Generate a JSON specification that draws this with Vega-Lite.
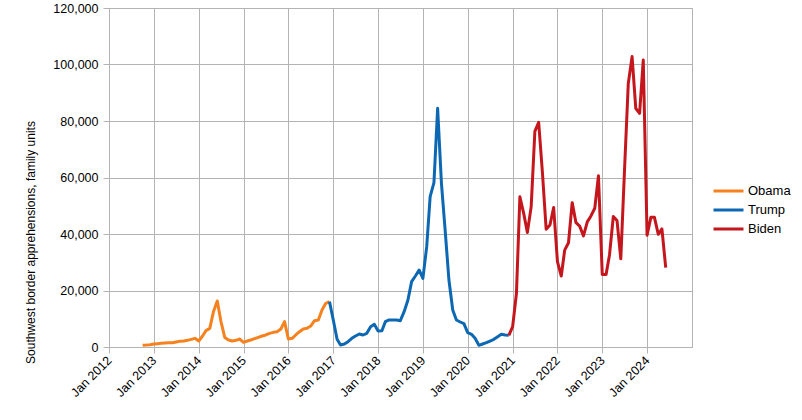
{
  "$schema": "https://vega.github.io/schema/vega-lite/v6.json",
  "width": 583,
  "height": 339,
  "autosize": "none",
  "padding": {"left": 109, "top": 8, "right": 110, "bottom": 73},
  "background": "white",
  "data": {
    "values": [
      {"month": "2012-10-01T00:00", "president": "Obama", "families": 600},
      {"month": "2012-11-01T00:00", "president": "Obama", "families": 700},
      {"month": "2012-12-01T00:00", "president": "Obama", "families": 830},
      {"month": "2013-01-01T00:00", "president": "Obama", "families": 1060},
      {"month": "2013-02-01T00:00", "president": "Obama", "families": 1180},
      {"month": "2013-03-01T00:00", "president": "Obama", "families": 1300},
      {"month": "2013-04-01T00:00", "president": "Obama", "families": 1420},
      {"month": "2013-05-01T00:00", "president": "Obama", "families": 1530},
      {"month": "2013-06-01T00:00", "president": "Obama", "families": 1530},
      {"month": "2013-07-01T00:00", "president": "Obama", "families": 1770},
      {"month": "2013-08-01T00:00", "president": "Obama", "families": 2000},
      {"month": "2013-09-01T00:00", "president": "Obama", "families": 2120},
      {"month": "2013-10-01T00:00", "president": "Obama", "families": 2360},
      {"month": "2013-11-01T00:00", "president": "Obama", "families": 2710},
      {"month": "2013-12-01T00:00", "president": "Obama", "families": 3070},
      {"month": "2014-01-01T00:00", "president": "Obama", "families": 2120},
      {"month": "2014-02-01T00:00", "president": "Obama", "families": 3900},
      {"month": "2014-03-01T00:00", "president": "Obama", "families": 5800},
      {"month": "2014-04-01T00:00", "president": "Obama", "families": 6600},
      {"month": "2014-05-01T00:00", "president": "Obama", "families": 12500},
      {"month": "2014-06-01T00:00", "president": "Obama", "families": 16300},
      {"month": "2014-07-01T00:00", "president": "Obama", "families": 9000},
      {"month": "2014-08-01T00:00", "president": "Obama", "families": 3400},
      {"month": "2014-09-01T00:00", "president": "Obama", "families": 2480},
      {"month": "2014-10-01T00:00", "president": "Obama", "families": 2120},
      {"month": "2014-11-01T00:00", "president": "Obama", "families": 2360},
      {"month": "2014-12-01T00:00", "president": "Obama", "families": 2830},
      {"month": "2015-01-01T00:00", "president": "Obama", "families": 1650},
      {"month": "2015-02-01T00:00", "president": "Obama", "families": 2120},
      {"month": "2015-03-01T00:00", "president": "Obama", "families": 2480},
      {"month": "2015-04-01T00:00", "president": "Obama", "families": 2950},
      {"month": "2015-05-01T00:00", "president": "Obama", "families": 3420},
      {"month": "2015-06-01T00:00", "president": "Obama", "families": 3890},
      {"month": "2015-07-01T00:00", "president": "Obama", "families": 4250},
      {"month": "2015-08-01T00:00", "president": "Obama", "families": 4840},
      {"month": "2015-09-01T00:00", "president": "Obama", "families": 5190},
      {"month": "2015-10-01T00:00", "president": "Obama", "families": 5430},
      {"month": "2015-11-01T00:00", "president": "Obama", "families": 6370},
      {"month": "2015-12-01T00:00", "president": "Obama", "families": 8970},
      {"month": "2016-01-01T00:00", "president": "Obama", "families": 2830},
      {"month": "2016-02-01T00:00", "president": "Obama", "families": 3070},
      {"month": "2016-03-01T00:00", "president": "Obama", "families": 4250},
      {"month": "2016-04-01T00:00", "president": "Obama", "families": 5430},
      {"month": "2016-05-01T00:00", "president": "Obama", "families": 6370},
      {"month": "2016-06-01T00:00", "president": "Obama", "families": 6610},
      {"month": "2016-07-01T00:00", "president": "Obama", "families": 7430},
      {"month": "2016-08-01T00:00", "president": "Obama", "families": 9320},
      {"month": "2016-09-01T00:00", "president": "Obama", "families": 9560},
      {"month": "2016-10-01T00:00", "president": "Obama", "families": 13100},
      {"month": "2016-11-01T00:00", "president": "Obama", "families": 15460},
      {"month": "2016-12-01T00:00", "president": "Obama", "families": 16050},
      {"month": "2016-12-01T00:00", "president": "Trump", "families": 16050},
      {"month": "2017-01-01T00:00", "president": "Trump", "families": 9560},
      {"month": "2017-02-01T00:00", "president": "Trump", "families": 2720},
      {"month": "2017-03-01T00:00", "president": "Trump", "families": 710},
      {"month": "2017-04-01T00:00", "president": "Trump", "families": 1060},
      {"month": "2017-05-01T00:00", "president": "Trump", "families": 1890},
      {"month": "2017-06-01T00:00", "president": "Trump", "families": 3070},
      {"month": "2017-07-01T00:00", "president": "Trump", "families": 3890},
      {"month": "2017-08-01T00:00", "president": "Trump", "families": 4600},
      {"month": "2017-09-01T00:00", "president": "Trump", "families": 4250},
      {"month": "2017-10-01T00:00", "president": "Trump", "families": 4840},
      {"month": "2017-11-01T00:00", "president": "Trump", "families": 7200},
      {"month": "2017-12-01T00:00", "president": "Trump", "families": 8020},
      {"month": "2018-01-01T00:00", "president": "Trump", "families": 5660},
      {"month": "2018-02-01T00:00", "president": "Trump", "families": 5780},
      {"month": "2018-03-01T00:00", "president": "Trump", "families": 8970},
      {"month": "2018-04-01T00:00", "president": "Trump", "families": 9560},
      {"month": "2018-05-01T00:00", "president": "Trump", "families": 9560},
      {"month": "2018-06-01T00:00", "president": "Trump", "families": 9560},
      {"month": "2018-07-01T00:00", "president": "Trump", "families": 9320},
      {"month": "2018-08-01T00:00", "president": "Trump", "families": 12500},
      {"month": "2018-09-01T00:00", "president": "Trump", "families": 16640},
      {"month": "2018-10-01T00:00", "president": "Trump", "families": 23130},
      {"month": "2018-11-01T00:00", "president": "Trump", "families": 25140},
      {"month": "2018-12-01T00:00", "president": "Trump", "families": 27260},
      {"month": "2019-01-01T00:00", "president": "Trump", "families": 24310},
      {"month": "2019-02-01T00:00", "president": "Trump", "families": 35520},
      {"month": "2019-03-01T00:00", "president": "Trump", "families": 53230},
      {"month": "2019-04-01T00:00", "president": "Trump", "families": 58190},
      {"month": "2019-05-01T00:00", "president": "Trump", "families": 84500},
      {"month": "2019-06-01T00:00", "president": "Trump", "families": 57950},
      {"month": "2019-07-01T00:00", "president": "Trump", "families": 41430},
      {"month": "2019-08-01T00:00", "president": "Trump", "families": 23720},
      {"month": "2019-09-01T00:00", "president": "Trump", "families": 13100},
      {"month": "2019-10-01T00:00", "president": "Trump", "families": 9560},
      {"month": "2019-11-01T00:00", "president": "Trump", "families": 8850},
      {"month": "2019-12-01T00:00", "president": "Trump", "families": 8260},
      {"month": "2020-01-01T00:00", "president": "Trump", "families": 5070},
      {"month": "2020-02-01T00:00", "president": "Trump", "families": 4480},
      {"month": "2020-03-01T00:00", "president": "Trump", "families": 3070},
      {"month": "2020-04-01T00:00", "president": "Trump", "families": 590},
      {"month": "2020-05-01T00:00", "president": "Trump", "families": 1060},
      {"month": "2020-06-01T00:00", "president": "Trump", "families": 1530},
      {"month": "2020-07-01T00:00", "president": "Trump", "families": 2120},
      {"month": "2020-08-01T00:00", "president": "Trump", "families": 2710},
      {"month": "2020-09-01T00:00", "president": "Trump", "families": 3660},
      {"month": "2020-10-01T00:00", "president": "Trump", "families": 4480},
      {"month": "2020-11-01T00:00", "president": "Trump", "families": 4250},
      {"month": "2020-12-01T00:00", "president": "Trump", "families": 4130},
      {"month": "2020-12-01T00:00", "president": "Biden", "families": 4130},
      {"month": "2021-01-01T00:00", "president": "Biden", "families": 7200},
      {"month": "2021-02-01T00:00", "president": "Biden", "families": 19000},
      {"month": "2021-03-01T00:00", "president": "Biden", "families": 53200},
      {"month": "2021-04-01T00:00", "president": "Biden", "families": 47300},
      {"month": "2021-05-01T00:00", "president": "Biden", "families": 40500},
      {"month": "2021-06-01T00:00", "president": "Biden", "families": 49700},
      {"month": "2021-07-01T00:00", "president": "Biden", "families": 76300},
      {"month": "2021-08-01T00:00", "president": "Biden", "families": 79500},
      {"month": "2021-09-01T00:00", "president": "Biden", "families": 61500},
      {"month": "2021-10-01T00:00", "president": "Biden", "families": 41700},
      {"month": "2021-11-01T00:00", "president": "Biden", "families": 43200},
      {"month": "2021-12-01T00:00", "president": "Biden", "families": 49400},
      {"month": "2022-01-01T00:00", "president": "Biden", "families": 30200},
      {"month": "2022-02-01T00:00", "president": "Biden", "families": 25100},
      {"month": "2022-03-01T00:00", "president": "Biden", "families": 34300},
      {"month": "2022-04-01T00:00", "president": "Biden", "families": 36900},
      {"month": "2022-05-01T00:00", "president": "Biden", "families": 51100},
      {"month": "2022-06-01T00:00", "president": "Biden", "families": 44000},
      {"month": "2022-07-01T00:00", "president": "Biden", "families": 42800},
      {"month": "2022-08-01T00:00", "president": "Biden", "families": 39300},
      {"month": "2022-09-01T00:00", "president": "Biden", "families": 44300},
      {"month": "2022-10-01T00:00", "president": "Biden", "families": 46400},
      {"month": "2022-11-01T00:00", "president": "Biden", "families": 49100},
      {"month": "2022-12-01T00:00", "president": "Biden", "families": 60600},
      {"month": "2023-01-01T00:00", "president": "Biden", "families": 25700},
      {"month": "2023-02-01T00:00", "president": "Biden", "families": 25700},
      {"month": "2023-03-01T00:00", "president": "Biden", "families": 32600},
      {"month": "2023-04-01T00:00", "president": "Biden", "families": 46200},
      {"month": "2023-05-01T00:00", "president": "Biden", "families": 44800},
      {"month": "2023-06-01T00:00", "president": "Biden", "families": 31200},
      {"month": "2023-07-01T00:00", "president": "Biden", "families": 62300},
      {"month": "2023-08-01T00:00", "president": "Biden", "families": 93300},
      {"month": "2023-09-01T00:00", "president": "Biden", "families": 102800},
      {"month": "2023-10-01T00:00", "president": "Biden", "families": 84500},
      {"month": "2023-11-01T00:00", "president": "Biden", "families": 82700},
      {"month": "2023-12-01T00:00", "president": "Biden", "families": 101600},
      {"month": "2024-01-01T00:00", "president": "Biden", "families": 39600},
      {"month": "2024-02-01T00:00", "president": "Biden", "families": 45900},
      {"month": "2024-03-01T00:00", "president": "Biden", "families": 45900},
      {"month": "2024-04-01T00:00", "president": "Biden", "families": 39900},
      {"month": "2024-05-01T00:00", "president": "Biden", "families": 41800},
      {"month": "2024-06-01T00:00", "president": "Biden", "families": 28100}
    ]
  },
  "mark": {"type": "line", "strokeWidth": 3, "strokeJoin": "round", "interpolate": "linear"},
  "encoding": {
    "x": {
      "field": "month",
      "type": "temporal",
      "scale": {"domain": ["2012-01-01T00:00", "2025-01-01T00:00"], "nice": false},
      "axis": {
        "title": null,
        "format": "%b %Y",
        "values": [
          "2012-01-01T00:00", "2013-01-01T00:00", "2014-01-01T00:00", "2015-01-01T00:00",
          "2016-01-01T00:00", "2017-01-01T00:00", "2018-01-01T00:00", "2019-01-01T00:00",
          "2020-01-01T00:00", "2021-01-01T00:00", "2022-01-01T00:00", "2023-01-01T00:00",
          "2024-01-01T00:00"
        ],
        "labelAngle": -45,
        "labelAlign": "right",
        "labelBaseline": "middle",
        "labelPadding": 5,
        "labelOverlap": false,
        "labelFlush": false,
        "tickSize": 6
      }
    },
    "y": {
      "field": "families",
      "type": "quantitative",
      "scale": {"domain": [0, 120000], "nice": false},
      "axis": {
        "title": "Southwest border apprehensions, family units",
        "format": ",d",
        "values": [0, 20000, 40000, 60000, 80000, 100000, 120000],
        "tickSize": 6,
        "labelPadding": 5,
        "titleX": -79,
        "titleY": 234,
        "titleAngle": -90,
        "titleAlign": "center",
        "titleBaseline": "middle"
      }
    },
    "color": {
      "field": "president",
      "type": "nominal",
      "scale": {"domain": ["Obama", "Trump", "Biden"], "range": ["#f5821f", "#0d68b3", "#c4161c"]},
      "legend": {
        "title": null,
        "orient": "none",
        "legendX": 603,
        "legendY": 175,
        "symbolType": "stroke",
        "symbolSize": 900,
        "symbolStrokeWidth": 3,
        "labelFontSize": 13,
        "labelOffset": 3,
        "clipHeight": 16,
        "rowPadding": 3
      }
    }
  },
  "config": {
    "font": "Liberation Sans",
    "view": {"stroke": "#b3b3b3", "strokeWidth": 1},
    "axis": {
      "grid": true,
      "gridColor": "#b3b3b3",
      "gridOpacity": 1,
      "domainColor": "#b3b3b3",
      "tickColor": "#b3b3b3",
      "labelColor": "#000000",
      "labelFontSize": 12.5,
      "labelFont": "Liberation Sans",
      "titleFont": "Liberation Sans",
      "titleFontSize": 12,
      "titleFontWeight": "normal",
      "titleColor": "#000000"
    },
    "legend": {"labelColor": "#000000", "labelFont": "Liberation Sans"}
  }
}
